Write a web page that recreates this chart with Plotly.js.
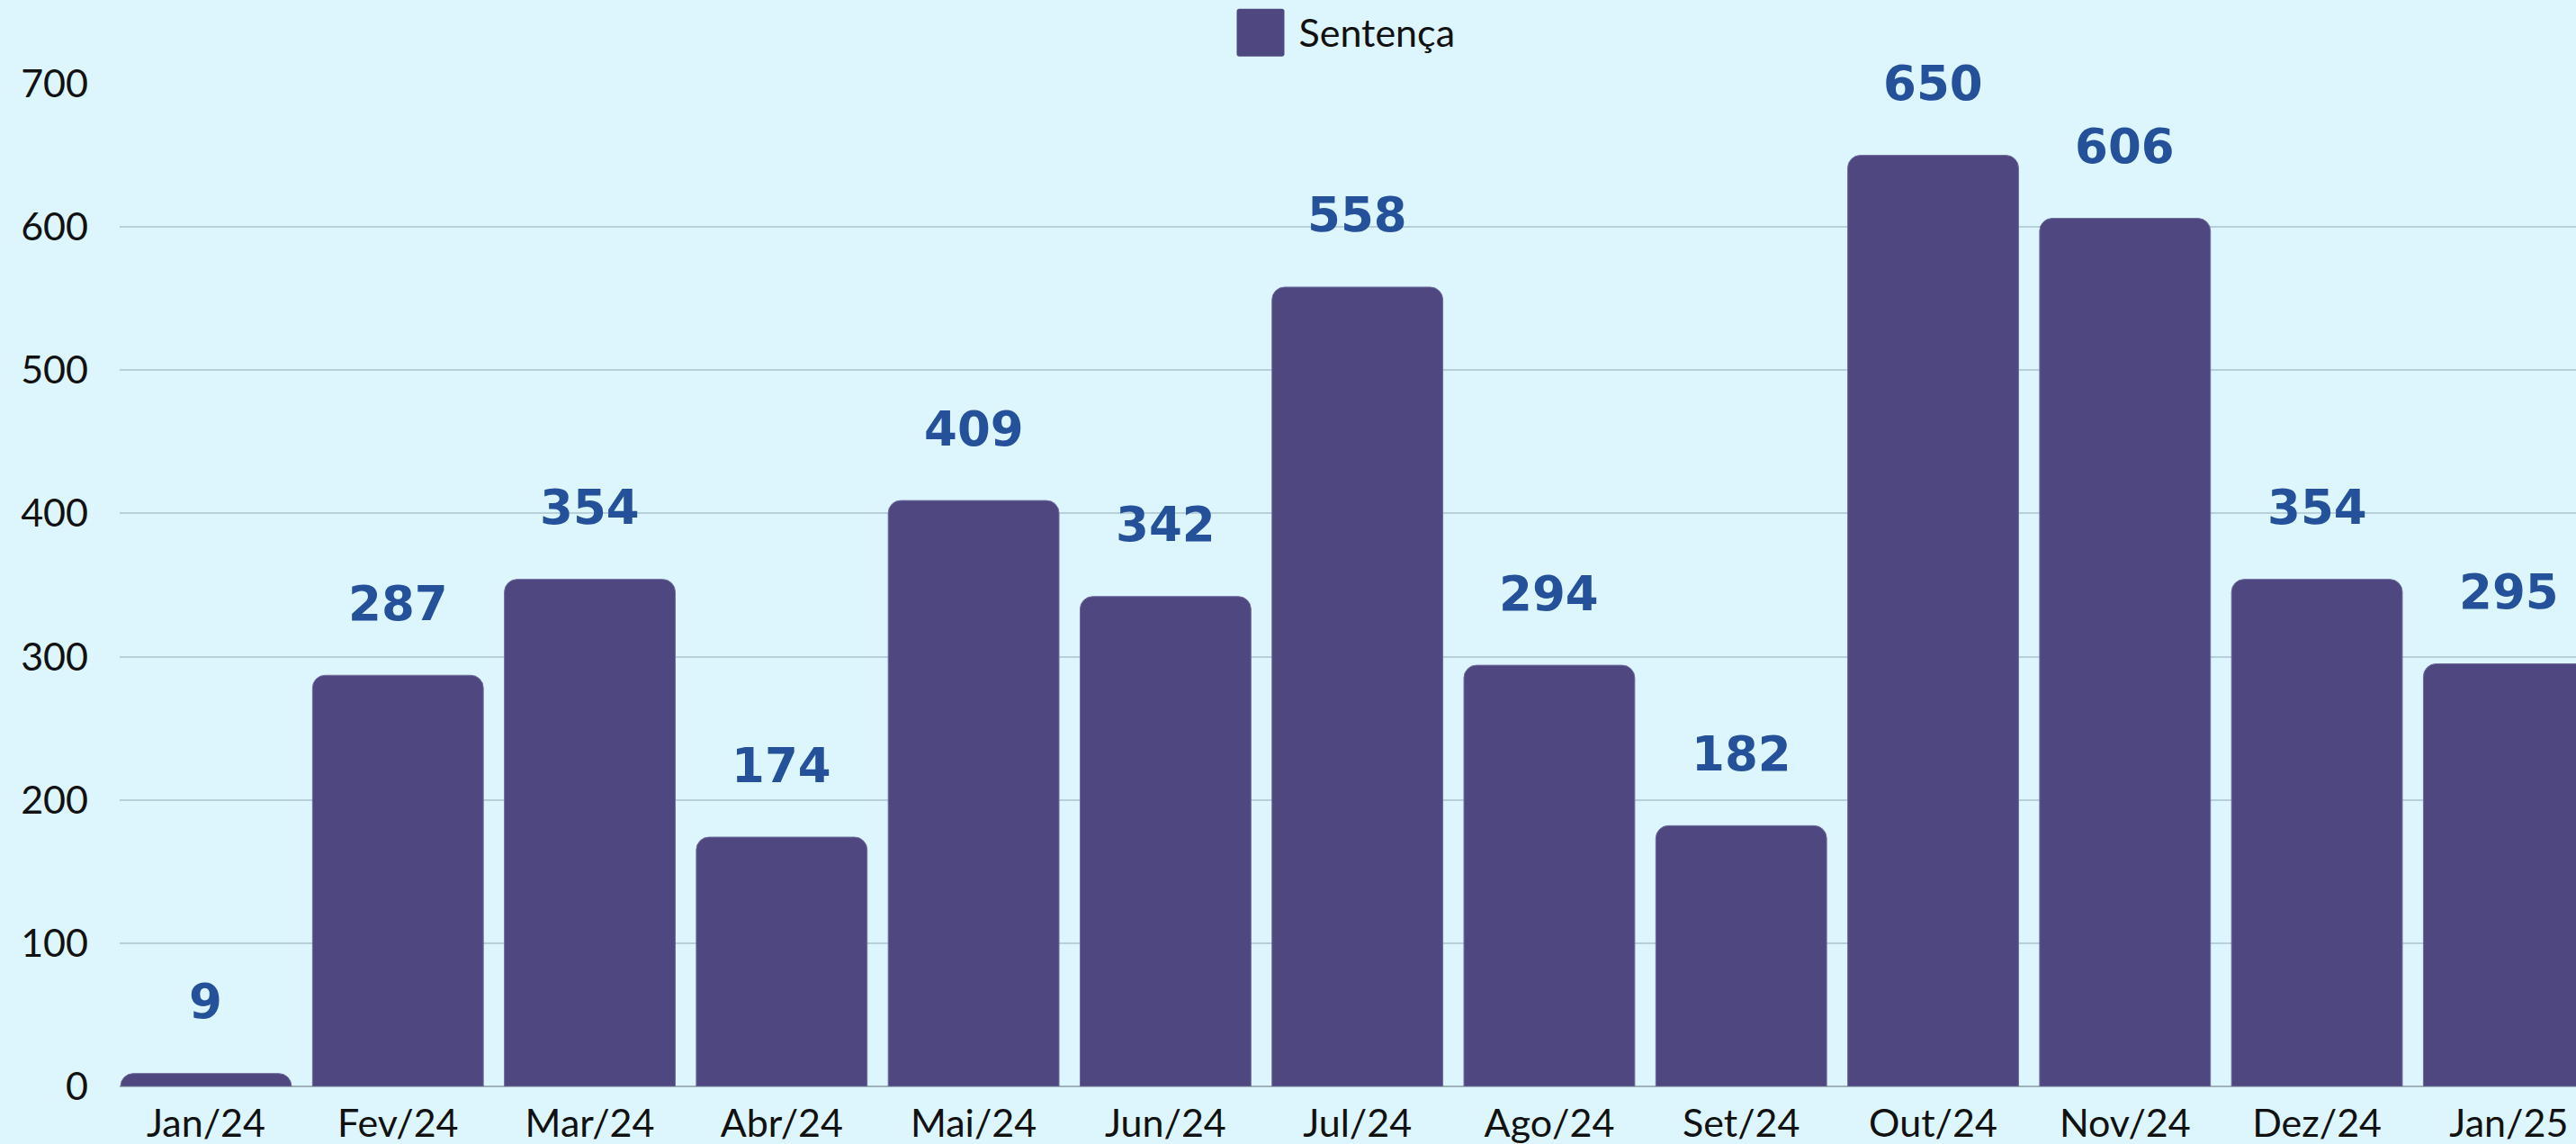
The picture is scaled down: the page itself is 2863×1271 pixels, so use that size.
<!DOCTYPE html>
<html>
<head>
<meta charset="utf-8">
<script src="https://cdn.plot.ly/plotly-3.0.1.min.js"></script>
<style>
  html, body { margin: 0; padding: 0; background: #ddf6fd; }
  #chart { width: 2863px; height: 1271px; }
</style>
</head>
<body>
<div id="chart"></div>
<script>
const months = ["Jan/24","Fev/24","Mar/24","Abr/24","Mai/24","Jun/24","Jul/24","Ago/24","Set/24","Out/24","Nov/24","Dez/24","Jan/25"];
const sentenca = [9, 287, 354, 174, 409, 342, 558, 294, 182, 650, 606, 354, 295];
const seriesName = "Sentença";
const yTicks = [0, 100, 200, 300, 400, 500, 600, 700];

const barColor = "#4f4880";
const labelColor = "#25509a";
const bg = "#ddf6fd";

const trace = {
  type: "bar",
  name: seriesName,
  x: months,
  y: sentenca,
  marker: { color: barColor, cornerradius: 14, line: { width: 1, color: "#6f6a9c" } },
  showlegend: true,
  hoverinfo: "x+y"
};

const annotations = months.map((m, i) => ({
  x: m, y: sentenca[i], xref: "x", yref: "y",
  text: String(sentenca[i]),
  showarrow: false,
  yanchor: "middle",
  yshift: 80,
  font: { family: "DejaVu Sans", size: 53, color: labelColor, weight: 700 }
}));

const layout = {
  width: 2863, height: 1271,
  paper_bgcolor: bg, plot_bgcolor: bg,
  margin: { l: 133, r: 0, t: 93, b: 64 },
  bargap: 0.11,
  font: { family: "Lato", color: "#111111", size: 43 },
  showlegend: true,
  legend: {
    orientation: "h", x: 0.5, xanchor: "center", y: 1.021, yanchor: "bottom",
    xref: "paper", yref: "paper",
    font: { family: "Lato", size: 43, color: "#111111" },
    bgcolor: "rgba(0,0,0,0)", itemwidth: 60, itemclick: false
  },
  xaxis: {
    type: "category",
    range: [-0.45, 12.35],
    showgrid: false, showline: false, zeroline: false, ticks: "",
    tickfont: { family: "Lato", size: 43, color: "#111111" },
    ticklabelstandoff: 12,
    fixedrange: true
  },
  yaxis: {
    range: [0, 700],
    tickvals: yTicks,
    showgrid: true, gridcolor: "#b7cfd8", gridwidth: 2,
    zeroline: true, zerolinecolor: "#9fb2ba", zerolinewidth: 2,
    showline: false, ticks: "",
    tickfont: { family: "Lato", size: 43, color: "#111111" },
    ticklabelstandoff: 34,
    fixedrange: true
  },
  annotations: annotations
};

Plotly.newPlot("chart", [trace], layout, { displayModeBar: false, staticPlot: true }).then(gd => {
  const path = gd.querySelector(".legend .legendpoints path");
  const text = gd.querySelector(".legend .legendtext");
  if (path && text) {
    const pr = path.getBoundingClientRect();
    const tr = text.getBoundingClientRect();
    const curCx = pr.left + pr.width / 2;
    const curCy = pr.top + pr.height / 2;
    const half = 26.5;
    const targetCx = tr.left - 16 - half;
    const dx = targetCx - curCx;
    const tcy = tr.top + tr.height / 2 + 1;
    const dy = tcy - curCy;
    const r = 3;
    const x0 = dx - half, x1 = dx + half, y0 = dy - half, y1 = dy + half;
    path.setAttribute("d",
      `M${x0 + r},${y0}H${x1 - r}Q${x1},${y0} ${x1},${y0 + r}V${y1 - r}Q${x1},${y1} ${x1 - r},${y1}H${x0 + r}Q${x0},${y1} ${x0},${y1 - r}V${y0 + r}Q${x0},${y0} ${x0 + r},${y0}Z`);
    path.style.stroke = "none";
  }
});
</script>
</body>
</html>
